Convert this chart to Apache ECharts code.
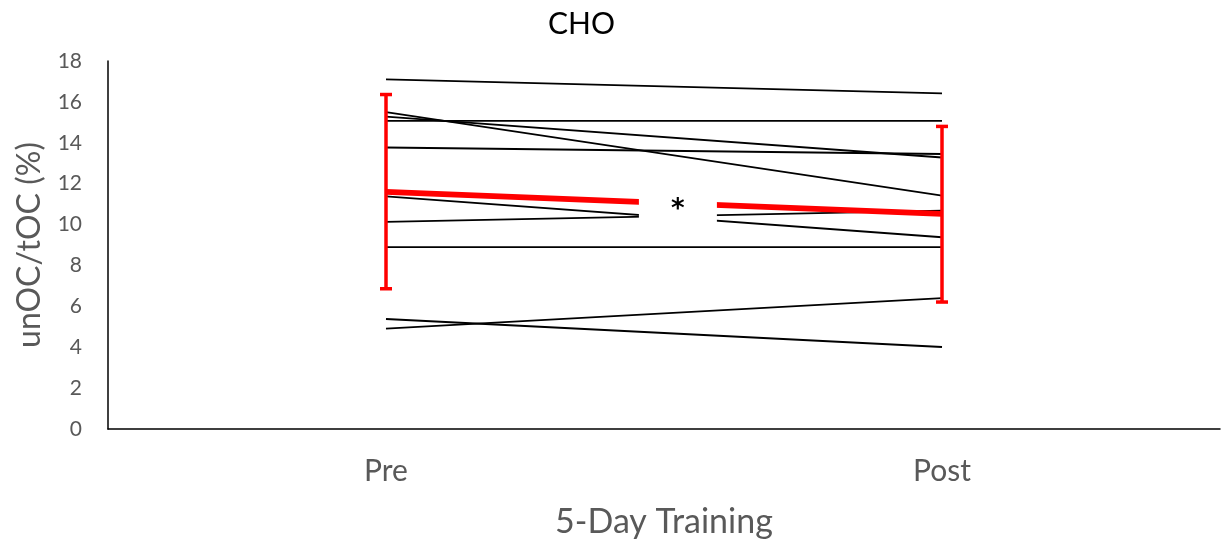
<!DOCTYPE html>
<html>
<head>
<meta charset="utf-8">
<script src="https://cdn.jsdelivr.net/npm/echarts@6/dist/echarts.min.js"></script>
<style>html,body{margin:0;padding:0;background:#fff}#c{width:1225px;height:544px}</style>
</head>
<body>
<div id="c"></div>
<script>
const categories = ['Pre', 'Post'];
const preValues  = [17.1, 15.5, 15.28, 15.07, 13.77, 11.38, 10.13, 8.9, 5.38, 4.91];
const postValues = [16.42, 11.41, 13.28, 15.07, 13.45, 9.38, 10.68, 8.9, 4.01, 6.4];
const meanValues = [11.6, 10.52];
const sdLow  = [6.86, 6.21];
const sdHigh = [16.36, 14.8];
const sigMark = { x: 0.525, y: 10.68, text: '*' };

const FONT = 'Lato, "Liberation Sans", sans-serif';
const chart = echarts.init(document.getElementById('c'), null, {renderer: 'canvas'});

const series = [];
preValues.forEach((v, i) => {
  series.push({
    type: 'line', xAxisIndex: 1, yAxisIndex: 0, z: 2,
    data: [[0, v], [1, postValues[i]]],
    symbol: 'none', silent: true,
    lineStyle: {color: '#000', width: 1.8}
  });
});
series.push({
  type: 'line', xAxisIndex: 1, yAxisIndex: 0, z: 3,
  data: meanValues.map((v, i) => [i, v]),
  symbol: 'none', silent: true,
  lineStyle: {color: '#ff0000', width: 5.8}
});
series.push({
  type: 'custom', xAxisIndex: 1, yAxisIndex: 0, z: 4, silent: true,
  data: meanValues.map((v, i) => [i, sdLow[i], sdHigh[i]]),
  renderItem: function (params, api) {
    const lo = api.coord([api.value(0), api.value(1)]);
    const hi = api.coord([api.value(0), api.value(2)]);
    const w = 6;
    const st = {stroke: '#ff0000', lineWidth: 3.5};
    return {type: 'group', children: [
      {type: 'line', shape: {x1: lo[0], y1: lo[1], x2: hi[0], y2: hi[1]}, style: st},
      {type: 'line', shape: {x1: lo[0] - w, y1: lo[1], x2: lo[0] + w, y2: lo[1]}, style: st},
      {type: 'line', shape: {x1: hi[0] - w, y1: hi[1], x2: hi[0] + w, y2: hi[1]}, style: st}
    ]};
  }
});
series.push({
  type: 'scatter', xAxisIndex: 1, yAxisIndex: 0, z: 10, silent: true,
  symbolSize: 0,
  itemStyle: {opacity: 1},
  data: [[sigMark.x, sigMark.y]],
  label: {
    show: true, position: 'inside', formatter: sigMark.text,
    color: '#000', fontSize: 26, fontWeight: 'bold', fontFamily: '"DejaVu Sans", sans-serif',
    backgroundColor: '#fff', width: 78, height: 22, lineHeight: 22,
    align: 'center', verticalAlign: 'middle',
    padding: [6, 0, 6, 0]
  }
});

chart.setOption({
  animation: false,
  backgroundColor: '#fff',
  title: {
    text: 'CHO', left: 543, top: 4,
    textStyle: {color: '#000', fontSize: 30, fontWeight: 'normal', fontFamily: FONT}
  },
  grid: {left: 108, right: 5, top: 61, bottom: 114, containLabel: false},
  xAxis: [
    {
      type: 'category', data: categories, boundaryGap: true,
      axisLine: {show: true, lineStyle: {color: '#000', width: 1.5}},
      axisTick: {show: false},
      axisLabel: {color: '#595959', fontSize: 30, fontFamily: FONT, margin: 27},
      name: '5-Day Training', nameLocation: 'middle', nameGap: 76,
      nameTextStyle: {color: '#595959', fontSize: 34, fontFamily: FONT},
      splitLine: {show: false}
    },
    {type: 'value', min: -0.5, max: 1.5, show: false}
  ],
  yAxis: {
    type: 'value', min: 0, max: 18, interval: 2,
    axisLine: {show: true, onZero: false, lineStyle: {color: '#000', width: 1.5}},
    axisTick: {show: false},
    splitLine: {show: false},
    axisLabel: {color: '#595959', fontSize: 21, fontFamily: FONT, margin: 26},
    name: 'unOC/tOC (%)', nameLocation: 'middle', nameGap: 62, nameRotate: 90,
    nameTextStyle: {color: '#595959', fontSize: 32, fontFamily: FONT}
  },
  series: series
});
</script>
</body>
</html>
